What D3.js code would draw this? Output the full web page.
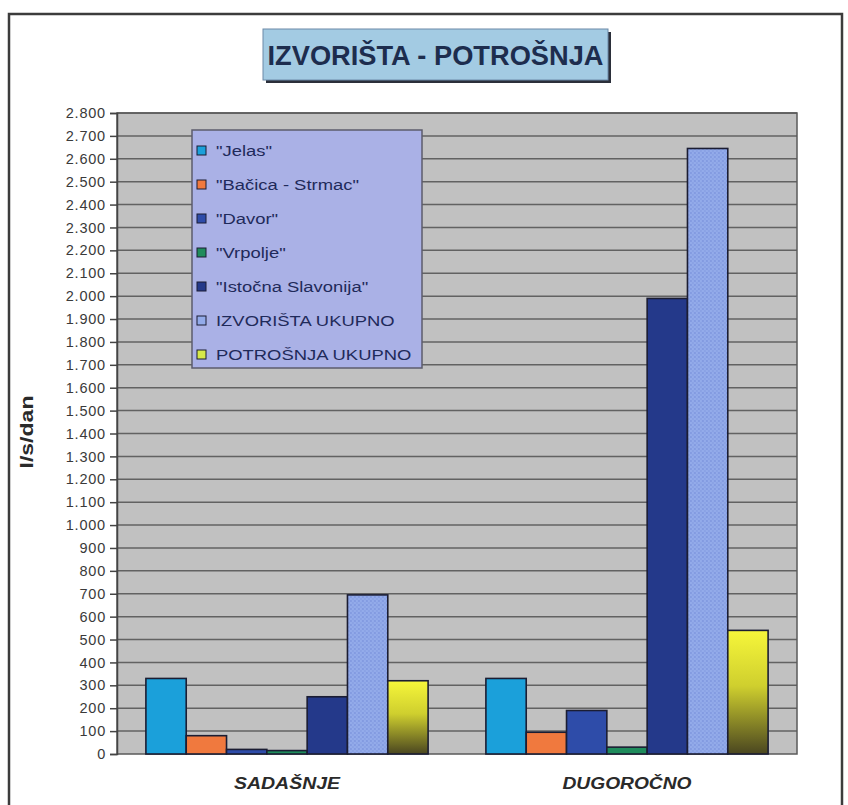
<!DOCTYPE html>
<html>
<head>
<meta charset="utf-8">
<script src="https://cdn.jsdelivr.net/npm/d3@7"></script>
<style>
  html, body { margin: 0; padding: 0; background: #ffffff; }
  svg { display: block; font-family: Arial, "Liberation Sans", sans-serif; }
</style>
</head>
<body>
<svg id="chart" width="848" height="805"></svg>
<script>
// Categories (x-axis groups)
const categories = ["SADAŠNJE", "DUGOROČNO"];

// Series names (legend order)
const seriesNames = [
  "\"Jelas\"",
  "\"Bačica - Strmac\"",
  "\"Davor\"",
  "\"Vrpolje\"",
  "\"Istočna Slavonija\"",
  "IZVORIŠTA UKUPNO",
  "POTROŠNJA UKUPNO"
];

// Values per series, one per category (l/s/dan)
const jelas     = [330, 330];
const bacica    = [80, 95];
const davor     = [20, 190];
const vrpolje   = [15, 30];
const istocna   = [250, 1990];
const izvorista = [695, 2645];
const potrosnja = [320, 540];

const seriesValues = [jelas, bacica, davor, vrpolje, istocna, izvorista, potrosnja];

// Y axis ticks
const yTicks = d3.range(0, 2801, 100);

const svg = d3.select("#chart");
const defs = svg.append("defs");

// Dotted fill for the total-sources series
const dots = defs.append("pattern")
  .attr("id", "dots").attr("patternUnits", "userSpaceOnUse")
  .attr("width", 4).attr("height", 4);
dots.append("rect").attr("width", 4).attr("height", 4).attr("fill", "#93abea");
dots.append("circle").attr("cx", 1).attr("cy", 1).attr("r", 0.8).attr("fill", "#6f87d6");
dots.append("circle").attr("cx", 3).attr("cy", 3).attr("r", 0.8).attr("fill", "#7f97de");

// Vertical gradient for the consumption series
const grad = defs.append("linearGradient")
  .attr("id", "yellowGrad").attr("x1", 0).attr("y1", 0).attr("x2", 0).attr("y2", 1);
grad.append("stop").attr("offset", "0%").attr("stop-color", "#f6f63a");
grad.append("stop").attr("offset", "45%").attr("stop-color", "#cfcf2e");
grad.append("stop").attr("offset", "100%").attr("stop-color", "#4a4620");

const fills = ["#1ba0da", "#f0793e", "#2e4ca9", "#1f8c5c", "#24398a", "url(#dots)", "url(#yellowGrad)"];
const swatchFills = ["#1ba0da", "#f0793e", "#2e4ca9", "#1f8c5c", "#24398a", "#93abea", "#d6e84a"];

// Outer frame
svg.append("rect")
  .attr("x", 9).attr("y", 14).attr("width", 833).attr("height", 806)
  .attr("fill", "none").attr("stroke", "#3c3c3c").attr("stroke-width", 2.5);

// Title box
const title = svg.append("g");
title.append("rect")
  .attr("x", 266).attr("y", 32).attr("width", 345).attr("height", 51)
  .attr("fill", "#2b2f3a");
title.append("rect")
  .attr("x", 263).attr("y", 29).attr("width", 345).attr("height", 51)
  .attr("fill", "#a3cbe3").attr("stroke", "#6c8aa8").attr("stroke-width", 1);
title.append("text")
  .attr("x", 435.5).attr("y", 65)
  .attr("text-anchor", "middle")
  .attr("font-size", 27).attr("font-weight", "bold")
  .attr("fill", "#1d2d4e")
  .attr("textLength", 336).attr("lengthAdjust", "spacingAndGlyphs")
  .text("IZVORIŠTA - POTROŠNJA");

// Plot area
const plot = { left: 117, right: 797, top: 113, bottom: 754 };

const y = d3.scaleLinear().domain([0, 2800]).range([plot.bottom, plot.top]);
const x0 = d3.scaleBand().domain(categories).range([plot.left, plot.right])
  .paddingInner(0.17).paddingOuter(0.085);
const x1 = d3.scaleBand().domain(d3.range(seriesNames.length)).range([0, x0.bandwidth()]).padding(0);

svg.append("rect")
  .attr("x", plot.left).attr("y", plot.top)
  .attr("width", plot.right - plot.left).attr("height", plot.bottom - plot.top)
  .attr("fill", "#c1c1c1");

// Gridlines
svg.append("g")
  .selectAll("line")
  .data(yTicks.filter(d => d > 0))
  .join("line")
  .attr("x1", plot.left).attr("x2", plot.right)
  .attr("y1", d => y(d)).attr("y2", d => y(d))
  .attr("stroke", "#626262").attr("stroke-width", 1.5);

svg.append("rect")
  .attr("x", plot.left).attr("y", plot.top)
  .attr("width", plot.right - plot.left).attr("height", plot.bottom - plot.top)
  .attr("fill", "none").attr("stroke", "#5a5a5a").attr("stroke-width", 1.5);

// Y axis
const fmt = d => d3.format(",")(d).replace(/,/g, ".");
const yAxis = svg.append("g")
  .attr("transform", `translate(${plot.left},0)`)
  .call(d3.axisLeft(y).tickValues(yTicks).tickFormat(fmt).tickSize(7).tickPadding(4));
yAxis.select(".domain").attr("stroke", "#444").attr("stroke-width", 1.5);
yAxis.selectAll(".tick line").attr("stroke", "#444").attr("stroke-width", 1.5);
yAxis.selectAll(".tick text")
  .attr("font-size", 14.5).attr("fill", "#3a3a3a")
  .attr("font-family", "Arial, 'Liberation Sans', sans-serif")
  .attr("letter-spacing", 0.8);

// Y axis title
svg.append("text")
  .attr("transform", "translate(33,432) rotate(-90)")
  .attr("text-anchor", "middle")
  .attr("font-size", 19).attr("font-weight", "bold").attr("fill", "#2a2a2a")
  .attr("textLength", 73).attr("lengthAdjust", "spacingAndGlyphs")
  .text("l/s/dan");

// Bars
const groups = svg.append("g")
  .selectAll("g")
  .data(categories)
  .join("g")
  .attr("transform", d => `translate(${x0(d)},0)`);

groups.selectAll("rect")
  .data((c, ci) => seriesValues.map((vals, si) => ({ si, v: vals[ci] })))
  .join("rect")
  .attr("x", d => x1(d.si))
  .attr("y", d => y(d.v))
  .attr("width", x1.bandwidth())
  .attr("height", d => y(0) - y(d.v))
  .attr("fill", d => fills[d.si])
  .attr("stroke", "#1b1d33").attr("stroke-width", 1.6);

// X axis labels
svg.append("g")
  .selectAll("text")
  .data(categories)
  .join("text")
  .attr("x", d => x0(d) + x0.bandwidth() / 2)
  .attr("y", 789)
  .attr("text-anchor", "middle")
  .attr("font-size", 16).attr("font-weight", "bold").attr("font-style", "italic")
  .attr("fill", "#2a2a2a")
  .attr("textLength", d => d === "SADAŠNJE" ? 106 : 129)
  .attr("lengthAdjust", "spacingAndGlyphs")
  .text(d => d);

// Legend
const legend = svg.append("g").attr("transform", "translate(192,130)");
legend.append("rect")
  .attr("width", 230).attr("height", 238)
  .attr("fill", "#aab1e6").attr("stroke", "#5c5c6c").attr("stroke-width", 1.5);

const items = legend.selectAll("g.item")
  .data(seriesNames)
  .join("g")
  .attr("class", "item")
  .attr("transform", (d, i) => `translate(0,${21 + i * 34})`);

items.append("rect")
  .attr("x", 5).attr("y", -5).attr("width", 9).attr("height", 9)
  .attr("fill", (d, i) => swatchFills[i])
  .attr("stroke", "#1b1d33").attr("stroke-width", 1);

// Legend labels are set in a horizontally widened face
items.append("text")
  .attr("transform", "translate(24,5) scale(1.27,1)")
  .attr("font-size", 14.5).attr("fill", "#1f2a5a")
  .text(d => d);
</script>
</body>
</html>
